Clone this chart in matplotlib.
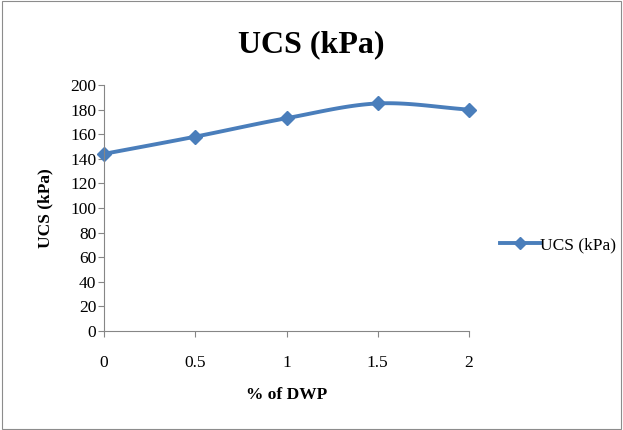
import numpy as np
import matplotlib
matplotlib.use("Agg")
import matplotlib.pyplot as plt
from matplotlib.patches import Rectangle

x_vals = [0, 0.5, 1, 1.5, 2]
ucs = [144, 158, 173, 185, 180]
x_ticks = [0, 0.5, 1, 1.5, 2]
x_tick_labels = ["0", "0.5", "1", "1.5", "2"]
y_ticks = list(range(0, 201, 20))

plt.rcParams['font.family'] = ['Liberation Serif', 'DejaVu Serif']

def catmull_rom(xs, ys, n=30):
    xs = np.asarray(xs, float); ys = np.asarray(ys, float)
    px = np.concatenate([[2*xs[0]-xs[1]], xs, [2*xs[-1]-xs[-2]]])
    py = np.concatenate([[2*ys[0]-ys[1]], ys, [2*ys[-1]-ys[-2]]])
    outx, outy = [], []
    for i in range(1, len(px)-2):
        t = np.linspace(0, 1, n)
        for arr, out in ((px, outx), (py, outy)):
            p0, p1, p2, p3 = arr[i-1], arr[i], arr[i+1], arr[i+2]
            out.extend(0.5*((2*p1) + (-p0+p2)*t + (2*p0-5*p1+4*p2-p3)*t**2 + (-p0+3*p1-3*p2+p3)*t**3))
    return np.array(outx), np.array(outy)

fig = plt.figure(figsize=(6.23, 4.30), dpi=100)
fig.patches.append(Rectangle((0.003, 0.003), 0.994, 0.994, transform=fig.transFigure,
                             fill=False, edgecolor='#8c8c8c', linewidth=0.8))
ax = fig.add_axes([104/623, (430-331)/430, (469-104)/623, (331-85)/430])

color = '#4A7EBB'
sx, sy = catmull_rom(x_vals, ucs)
ax.plot(sx, sy, color=color, linewidth=2.8, solid_capstyle='round', clip_on=False)
ax.plot(x_vals, ucs, linestyle='none', marker='D', markersize=7.5, color=color, clip_on=False)
ax.plot([], [], color=color, linewidth=2.8, marker='D', markersize=6.5, label='UCS (kPa)')

ax.set_xlim(0, 2)
ax.set_ylim(0, 200)
ax.set_xticks(x_ticks)
ax.set_xticklabels(x_tick_labels)
ax.set_yticks(y_ticks)
for s in ('top', 'right'):
    ax.spines[s].set_visible(False)
for s in ('left', 'bottom'):
    ax.spines[s].set_color('#868686')
    ax.spines[s].set_linewidth(0.8)
ax.tick_params(axis='both', colors='#868686', labelcolor='black', labelsize=12.5, length=4, width=0.8)
ax.tick_params(axis='y', pad=1.5)
ax.tick_params(axis='x', pad=13)
ax.set_xlabel('% of DWP', fontsize=12.5, fontweight='bold', labelpad=12)
ax.set_ylabel('UCS (kPa)', fontsize=12.5, fontweight='bold', labelpad=12)
fig.text(0.5, 1-45/430, 'UCS (kPa)', ha='center', va='center', fontsize=23, fontweight='bold')

leg = fig.legend(loc='center left', bbox_to_anchor=(484/623, 1-245/430), frameon=False,
                 fontsize=12.5, handlelength=2.3, handletextpad=0.05)

fig.savefig('out.png', dpi=100)
